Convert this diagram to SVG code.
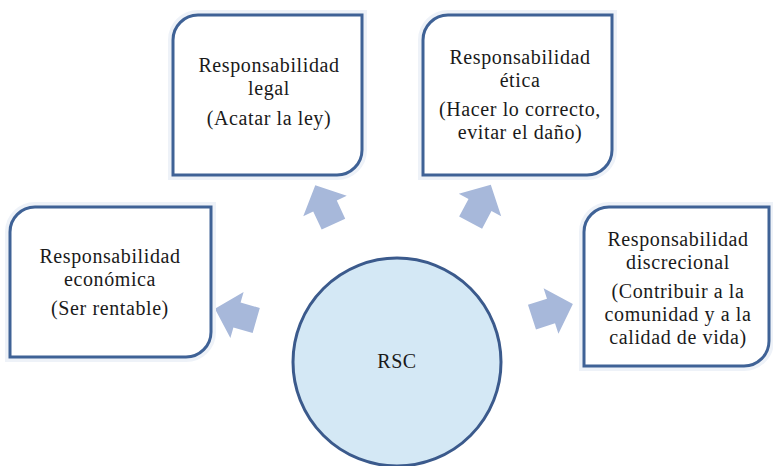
<svg xmlns="http://www.w3.org/2000/svg" width="773" height="466" viewBox="0 0 773 466">
<style>
.box{fill:#ffffff;stroke:#3f6296;stroke-width:3}
.glow{fill:none;stroke:#eef2f8;stroke-width:10}
.arrow{fill:#a7b8da}
.t{font-family:"Liberation Serif","Times New Roman",serif;font-size:20px;letter-spacing:0.6px;fill:#1a1a1a;text-anchor:middle}
</style>
<defs>
<path id="arr" d="M-20,-13 H0 V-24 L23,0 L0,24 V13 H-20 Z"/>
</defs>
<rect width="773" height="466" fill="#ffffff"/>
<g id="connectors">
<use href="#arr" class="arrow" transform="translate(237,315) rotate(196)"/>
<use href="#arr" class="arrow" transform="translate(325,206) rotate(245)"/>
<use href="#arr" class="arrow" transform="translate(480,205) rotate(298)"/>
<use href="#arr" class="arrow" transform="translate(551,311) rotate(342)"/>
</g>
<g id="economica">
<path class="glow" d="M10,232 A25,25 0 0 1 35,207 H211 V332 A25,25 0 0 1 186,357 H10 Z"/>
<path class="box" d="M10,232 A25,25 0 0 1 35,207 H211 V332 A25,25 0 0 1 186,357 H10 Z"/>
<text class="t" x="110" y="263">Responsabilidad</text>
<text class="t" x="110" y="286">económica</text>
<text class="t" x="110" y="315">(Ser rentable)</text>
</g>
<g id="legal">
<path class="glow" d="M173,40 A25,25 0 0 1 198,15 H362 V150 A25,25 0 0 1 337,175 H173 Z"/>
<path class="box" d="M173,40 A25,25 0 0 1 198,15 H362 V150 A25,25 0 0 1 337,175 H173 Z"/>
<text class="t" x="269" y="72">Responsabilidad</text>
<text class="t" x="269" y="95">legal</text>
<text class="t" x="269" y="125">(Acatar la ley)</text>
</g>
<g id="etica">
<path class="glow" d="M423,40 A25,25 0 0 1 448,15 H612 V150 A25,25 0 0 1 587,175 H423 Z"/>
<path class="box" d="M423,40 A25,25 0 0 1 448,15 H612 V150 A25,25 0 0 1 587,175 H423 Z"/>
<text class="t" x="520" y="64">Responsabilidad</text>
<text class="t" x="520" y="87">ética</text>
<text class="t" x="520" y="116">(Hacer lo correcto,</text>
<text class="t" x="520" y="139">evitar el daño)</text>
</g>
<g id="discrecional">
<path class="glow" d="M584,232 A25,25 0 0 1 609,207 H769 V341 A25,25 0 0 1 744,366 H584 Z"/>
<path class="box" d="M584,232 A25,25 0 0 1 609,207 H769 V341 A25,25 0 0 1 744,366 H584 Z"/>
<text class="t" x="678" y="246">Responsabilidad</text>
<text class="t" x="678" y="269">discrecional</text>
<text class="t" x="678" y="298">(Contribuir a la</text>
<text class="t" x="678" y="321">comunidad y a la</text>
<text class="t" x="678" y="344">calidad de vida)</text>
</g>
<g id="rsc">
<circle cx="397" cy="362" r="104" fill="#d4e8f5" stroke="#3b5a8c" stroke-width="3"/>
<text class="t" x="397" y="368">RSC</text>
</g>
</svg>
